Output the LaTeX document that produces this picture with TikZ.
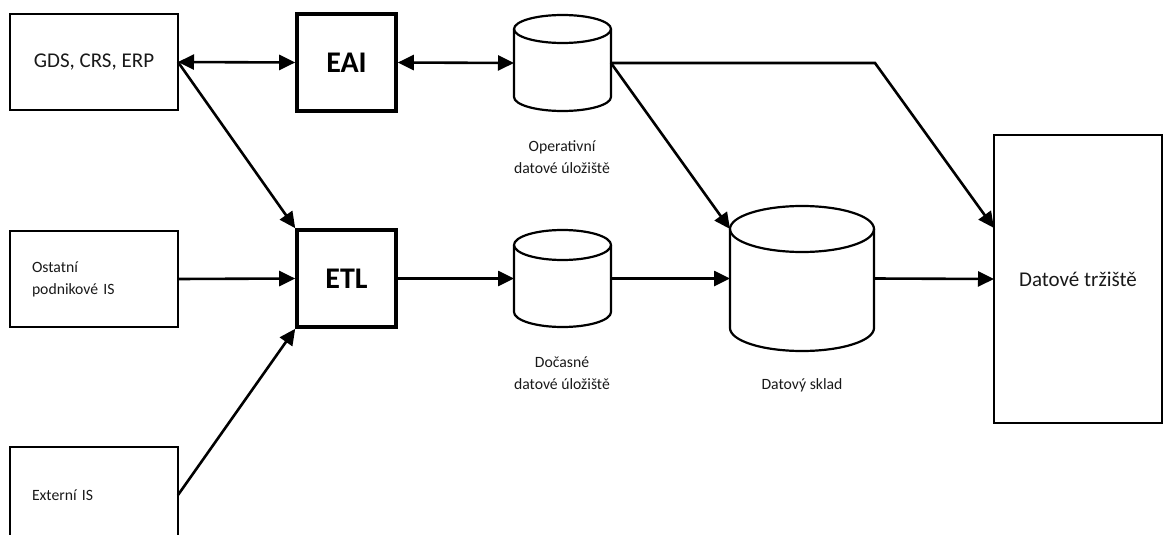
\documentclass[tikz,border=0pt]{standalone}
\usepackage{fontspec}
\setmainfont{Carlito}
\usetikzlibrary{arrows.meta}
\newcommand{\drawcyl}[5]{% cx, top, bottom, half width, ry (pixel units, y down)
  \draw[cylline] (#1-#4,-#2-#5) -- (#1-#4,-#3+#5)
     arc[start angle=180,end angle=360,x radius=#4,y radius=#5] -- (#1+#4,-#2-#5);
  \draw[cylline] (#1,-#2-#5) ellipse[x radius=#4,y radius=#5];}
\begin{document}
\begin{tikzpicture}[x=1pt,y=1pt,
  box/.style={draw, line width=1.9pt, minimum width=168pt, minimum height=96pt,
              inner sep=0pt, outer sep=0pt, text=black!90},
  proc/.style={draw, line width=3.6pt, minimum width=99pt, minimum height=97pt,
               inner sep=0pt, font=\bfseries\fontsize{30}{36}\selectfont},
  big/.style={font=\fontsize{21}{25}\selectfont},
  small/.style={font=\fontsize{15.7}{22}\selectfont},
  lab/.style={small, align=center, inner sep=0pt, text=black!90},
  cylnode/.style={inner sep=0pt, outer sep=0pt},
  cylline/.style={line width=2.2pt},
  conn/.style={line width=2.6pt, -{Triangle[length=16pt,width=15pt]}},
  both/.style={line width=2.6pt, {Triangle[length=16pt,width=15pt]}-{Triangle[length=16pt,width=15pt]}}]
\useasboundingbox (0,0) rectangle (1163,-535);
\clip (0,0) rectangle (1163,-535);

% sources
\node[box, big] (gds) at (94,-62) {GDS, CRS, ERP};
\node[box, small, text width=124pt, align=left] (ost) at (94,-279) {Ostatní\\podnikové IS};
\node[box, small, text width=124pt, align=left] (ext) at (94,-495) {Externí IS};

% processes
\node[proc] (eai) at (346.5,-62.5) {EAI};
\node[proc] (etl) at (346.5,-278.5) {ETL};

% storages
\node[cylnode, minimum width=97pt, minimum height=96pt] (ods) at (562.5,-63) {};
\drawcyl{562.5}{15}{111}{48.5}{14}
\node[cylnode, minimum width=97pt, minimum height=97pt] (tmp) at (562.5,-278.5) {};
\drawcyl{562.5}{230}{327}{48.5}{15}
\node[cylnode, minimum width=144pt, minimum height=145pt] (dws) at (802,-278.5) {};
\drawcyl{802}{206}{351}{72}{23}

\node[lab] (odsl) at (562,-157) {Operativní\\datové úložiště};
\node[lab] (tmpl) at (562,-373) {Dočasné\\datové úložiště};
\node[lab] (dwsl) at (802,-385) {Datový sklad};

% data mart
\node[box, big, minimum height=288pt] (dm) at (1078,-279) {Datové tržiště};

% helper points
\coordinate (dwstl) at (730,-229);
\coordinate (bend) at (875,-63);
\coordinate (dmin) at (994,-228);

% connectors
\draw[both] (gds.east) -- (eai.west);
\draw[both] (eai.east) -- (ods.west);
\draw[conn] (gds.east) -- (etl.north west);
\draw[conn] (ost.east) -- (etl.west);
\draw[conn] (ext.east) -- (etl.south west);
\draw[conn] (etl.east) -- (tmp.west);
\draw[conn] (tmp.east) -- (dws.west);
\draw[conn] (ods.east) -- (dwstl);
\draw[conn] (ods.east) -- (bend) -- (dmin);
\draw[conn] (dws.east) -- (dm.west);
\end{tikzpicture}
\end{document}
